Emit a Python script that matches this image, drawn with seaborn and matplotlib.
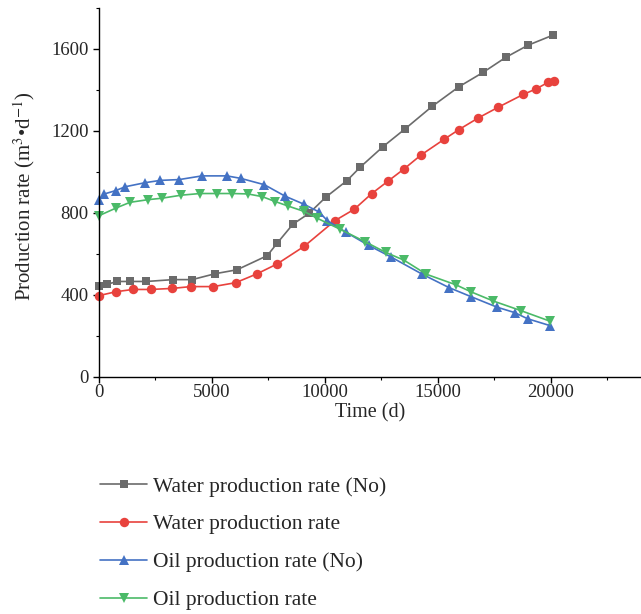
import numpy as np
import pandas as pd
import matplotlib
matplotlib.use('Agg')
import matplotlib.pyplot as plt
from matplotlib.ticker import MultipleLocator
import seaborn as sns

# 读取的数据（从图中估计）
water_no_x = [0, 350, 800, 1380, 2100, 3280, 4120, 5150, 6110, 7450, 7890, 8590, 9300,
              10040, 10980, 11570, 12580, 13550, 14750, 15940, 17010, 18010, 18990, 20090]
water_no_y = [442, 452, 466, 466, 466, 475, 475, 504, 523, 592, 653, 746, 798,
              877, 958, 1024, 1124, 1210, 1320, 1416, 1486, 1559, 1618, 1667]

water_x = [0, 750, 1500, 2280, 3230, 4070, 5060, 6050, 6990, 7880, 9080, 10450, 11300,
           12080, 12780, 13520, 14260, 15290, 15940, 16800, 17680, 18780, 19370, 19880, 20140]
water_y = [397, 416, 427, 427, 432, 441, 441, 460, 503, 551, 637, 763, 818,
           895, 954, 1016, 1083, 1160, 1207, 1264, 1316, 1378, 1406, 1437, 1445]

oil_no_x = [0, 240, 730, 1160, 2050, 2710, 3550, 4560, 5660, 6270, 7320, 8240, 9070,
            9740, 10110, 10920, 11940, 12920, 14320, 15500, 16470, 17640, 18410, 18980, 19990]
oil_no_y = [862, 893, 909, 928, 948, 959, 963, 981, 981, 969, 938, 882, 843,
            805, 763, 707, 642, 586, 501, 436, 392, 340, 314, 284, 250]

oil_x = [0, 770, 1370, 2170, 2780, 3650, 4480, 5230, 5900, 6590, 7220, 7800, 8370,
         9070, 9650, 10670, 11780, 12690, 13500, 14500, 15820, 16460, 17450, 18700, 19950]
oil_y = [787, 825, 852, 865, 872, 887, 895, 895, 895, 893, 880, 856, 834,
         808, 775, 721, 660, 608, 570, 501, 449, 416, 371, 323, 273]

labels = ['Water production rate (No)', 'Water production rate',
          'Oil production rate (No)', 'Oil production rate']

sns.set_theme(style='ticks')
plt.rcParams['font.family'] = ['Liberation Serif', 'DejaVu Serif']
plt.rcParams['mathtext.fontset'] = 'stix'

fig = plt.figure(figsize=(6.41, 6.14), dpi=100)
ax = fig.add_axes([0.1545, 0.386, 0.8455, 0.601])

series = [
    (water_no_x, water_no_y, '#6b6b6b', 's', 6.0),
    (water_x, water_y, '#e8423d', 'o', 6.8),
    (oil_no_x, oil_no_y, '#4472c4', '^', 7.8),
    (oil_x, oil_y, '#4bba68', 'v', 7.8),
]
for (xs, ys, c, m, ms), lab in zip(series, labels):
    sns.lineplot(x=xs, y=ys, ax=ax, color=c, marker=m, markersize=ms,
                 markeredgewidth=0, linewidth=1.2, label=lab, sort=False,
                 estimator=None, clip_on=False)

ax.set_xlim(0, 24000)
ax.set_ylim(0, 1800)
ax.xaxis.set_major_locator(MultipleLocator(5000))
ax.xaxis.set_minor_locator(MultipleLocator(2500))
ax.yaxis.set_major_locator(MultipleLocator(400))
ax.yaxis.set_minor_locator(MultipleLocator(200))
ax.tick_params(which='major', direction='out', length=4, width=1, labelsize=13.5, color='black')
ax.tick_params(which='minor', direction='out', length=2.5, width=0.8, color='black')
ax.tick_params(axis='x', which='major', pad=1)
for s in ['top', 'right']:
    ax.spines[s].set_visible(False)
for s in ['left', 'bottom']:
    ax.spines[s].set_color('black')
    ax.spines[s].set_linewidth(1)

ax.set_xlabel('Time (d)', fontsize=14.5)
ax.set_ylabel('Production rate (m$^3$•d$^{-1}$)', fontsize=15)
ax.xaxis.set_label_coords(0.5, -0.071)
ax.yaxis.set_label_coords(-0.115, 0.49)

handles, labs = ax.get_legend_handles_labels()
ax.get_legend().remove()
fig.legend(handles, labs, loc='upper left', bbox_to_anchor=(0.156, 0.224),
           frameon=False, fontsize=15.5, handlelength=2.2, handletextpad=0.25,
           labelspacing=0.83, borderpad=0, borderaxespad=0)

fig.savefig('out.png', dpi=100)
